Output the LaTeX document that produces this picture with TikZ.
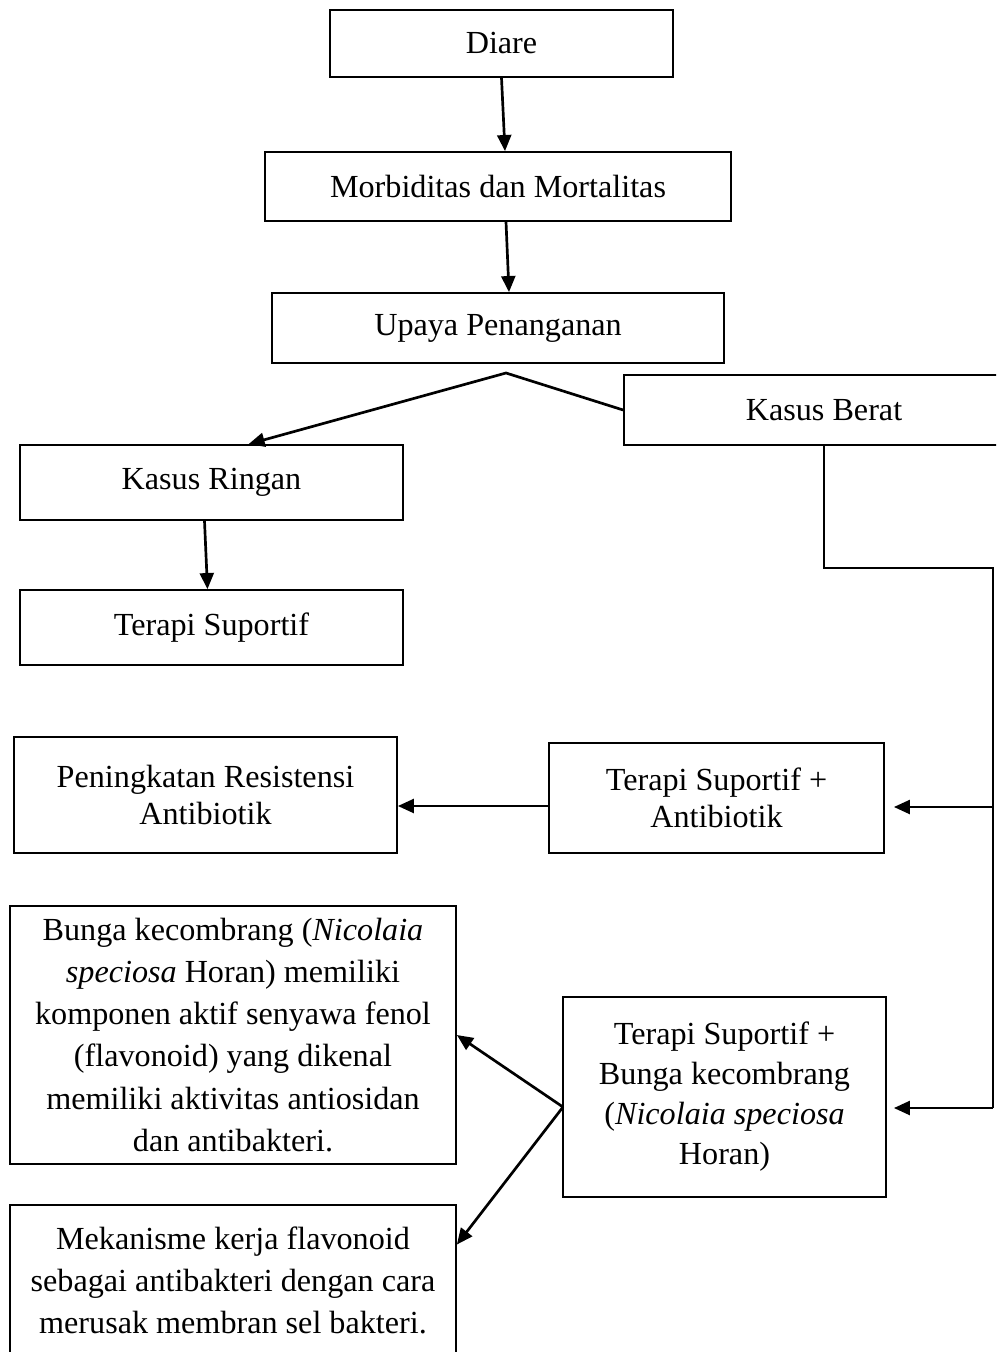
\documentclass[tikz,border=0pt]{standalone}
\usepackage{fontspec}
\setmainfont{Liberation Serif}
\usepackage{tikz}
\usetikzlibrary{arrows.meta}
\newlength{\px}
\setlength{\px}{0.373pt}

\begin{document}
\begin{tikzpicture}[x=0.373pt, y=-0.373pt]
\tikzset{font=\fontsize{12}{15.7}\selectfont}
\tikzset{box/.style={draw, line width=0.65pt, align=center, inner sep=0pt}}
\tikzset{tight/.style={font=\fontsize{12}{13.8}\selectfont}}
\tikzset{arr/.style={line width=1pt, -{Triangle[length=6pt,width=5.2pt]}}}
\tikzset{link/.style={line width=0.75pt}}
\useasboundingbox (0,0) rectangle (996,1352);
\begin{scope}
\clip (0,0) rectangle (996,1352);
\node[box, minimum width=343*\px, minimum height=67*\px] (diare) at (501.5,43.5) {Diare};
\node[box, minimum width=466*\px, minimum height=69*\px] (morb) at (498,186.5) {Morbiditas dan Mortalitas};
\node[box, minimum width=452*\px, minimum height=70*\px] (upaya) at (498,328) {Upaya Penanganan};
\node[box, minimum width=400*\px, minimum height=70*\px] (kberat) at (824,410) {Kasus Berat};
\node[box, minimum width=383*\px, minimum height=75*\px] (kringan) at (211.5,482.5) {Kasus Ringan};
\node[box, minimum width=383*\px, minimum height=75*\px] (tsup) at (211.5,627.5) {Terapi Suportif};
\node[box, tight, minimum width=383*\px, minimum height=116*\px] (resist) at (205.5,795) {Peningkatan Resistensi\\Antibiotik};
\node[box, tight, minimum width=335*\px, minimum height=110*\px] (tsupab) at (716.5,798) {Terapi Suportif +\\Antibiotik};
\node[box, minimum width=446*\px, minimum height=258*\px] (bunga) at (233,1035) {Bunga kecombrang (\textit{Nicolaia}\\\textit{speciosa} Horan) memiliki\\komponen aktif senyawa fenol\\(flavonoid) yang dikenal\\memiliki aktivitas antiosidan\\dan antibakteri.};
\node[box, font=\fontsize{12}{14.9}\selectfont, minimum width=323*\px, minimum height=200*\px] (tsupbg) at (724.5,1097) {Terapi Suportif +\\Bunga kecombrang\\(\textit{Nicolaia speciosa}\\Horan)};
\node[box, minimum width=446*\px, minimum height=150*\px] (mekan) at (233,1280) {Mekanisme kerja flavonoid\\sebagai antibakteri dengan cara\\merusak membran sel bakteri.};

% titik bantu
\coordinate (fork) at (506,373);
\coordinate (bend) at (993,568);
\coordinate (r1) at (993,807);
\coordinate (r2) at (993,1108);
\coordinate (split) at (563,1107);
\coordinate (ab) at ([yshift=-8*\px]tsupab.west);

% alur utama
\draw[arr] (diare.south) -- ([xshift=7*\px]morb.north);
\draw[arr] ([xshift=8*\px]morb.south) -- ([xshift=11*\px]upaya.north);
\draw[arr] (kberat.west) -- (fork) -- (kringan.46);
\draw[arr] ([xshift=-7*\px]kringan.south) -- ([xshift=-4*\px]tsup.north);

% kasus berat
\draw[link] (kberat.south) |- (bend) -- (r2);
\draw[arr, shorten >=9*\px] (r1) -- (r1 -| tsupab.east);
\draw[arr, shorten >=7*\px] (r2) -- (r2 -| tsupbg.east);
\draw[arr] (ab) -- (ab -| resist.east);
\draw[arr] (split) -- (bunga.east);
\draw[arr] (split) -- (mekan.9);
\end{scope}
\end{tikzpicture}
\end{document}
